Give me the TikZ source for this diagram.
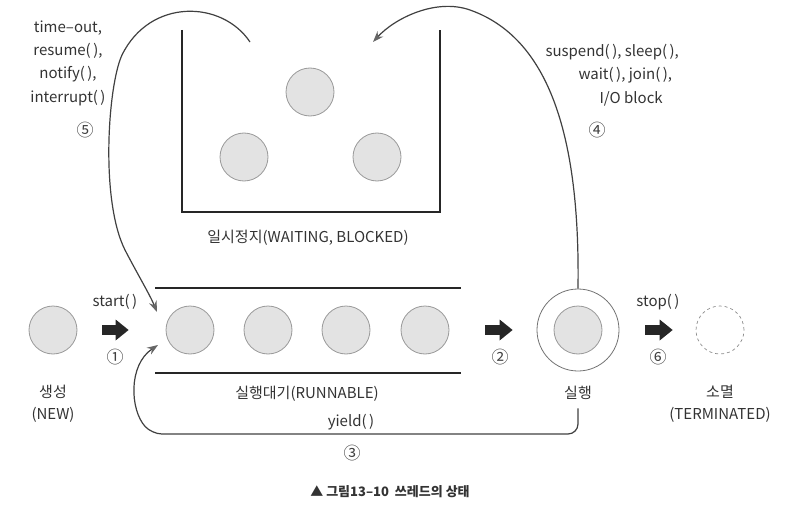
\documentclass[tikz,border=0pt]{standalone}
\usepackage{fontspec}
\setmainfont{Noto Sans CJK KR}
\usetikzlibrary{arrows.meta}
\tikzset{
	thread/.style={ % a thread as a grey disc
			circle,
			minimum size=48pt,
			inner sep=0pt,
			draw=black!40,
			fill=black!11,
			line width=0.8pt
		},
	ring/.style={ % ring round the running thread
			circle,
			minimum size=82pt,
			inner sep=0pt,
			draw=black!55,
			line width=0.8pt
		},
	gone/.style={ % terminated, only dashed
			circle,
			minimum size=48pt,
			inner sep=0pt,
			draw=black!45,
			dashed,
			line width=0.7pt
		},
	wall/.style={line width=1.6pt, draw=black!85},
	txt/.style={
			font=\fontsize{15}{22}\selectfont,
			text=black!80,
			align=center
		},
	num/.style={ % circled step numbers
			font=\fontsize{17}{20}\selectfont,
			text=black!75
		},
	bigarrow/.style={ % thick block arrows
			draw=black!85,
			line width=10pt,
			-{Triangle[length=13pt,width=21pt,line width=0pt]}
		},
	move/.style={ % thin bent transitions
			draw=black!75,
			line width=1.2pt,
			-{Stealth[length=11pt,width=8pt,color=black!60]}
		}
}
\begin{document}
\begin{tikzpicture}[x=1pt, y=-1pt]
	\useasboundingbox (0,0) rectangle (796,511);

	\draw[wall] (182,30) |- (440,212) -- (440,30);
	\node[thread] (w1) at (310,92) {};
	\node[thread] (w2) at (244,157) {};
	\node[thread] (w3) at (377,157) {};
	\node[txt] (waitlbl) at (308,238) {일시정지(WAITING, BLOCKED)};

	\draw[wall] (155,288) -- (461,288);
	\draw[wall] (155,373) -- (461,373);
	\foreach \i/\x in {1/190,2/268,3/346,4/425}
		\node[thread] (r\i) at (\x,330) {};
	\node[txt] (readylbl) at (307,394) {실행대기(RUNNABLE)};

	\node[thread] (new) at (53,330) {};
	\node[txt] (newlbl) at (53,404) {생성\\(NEW)};
	\node[ring] (run) at (578,330) {};
	\node[thread] (runin) at (578,330) {};
	\node[txt] (runlbl) at (578,393) {실행};
	\node[gone] (dead) at (720,330) {};
	\node[txt] (deadlbl) at (720,404) {소멸\\(TERMINATED)};

	\draw[bigarrow, shorten <=25pt, shorten >=37pt] (new) -- (r1);
	\draw[bigarrow, shorten <=36pt, shorten >=24pt] (r4) -- (run);
	\draw[bigarrow, shorten <=26pt, shorten >=23pt] (run) -- (dead);
	\node[txt] (startlbl) at (115,302) {start(\,)};
	\node[num] (n1) at (115,357) {①};
	\node[num] (n2) at (500,357) {②};
	\node[txt] (stoplbl) at (658,302) {stop(\,)};
	\node[num] (n6) at (658,357) {⑥};

	\coordinate (out5) at (250,42);
	\coordinate (in5) at (157,312);
	\coordinate (in4) at (373,42);
	\coordinate (in3) at (158,345);
	\draw[move] (out5) .. controls (222,0) and (150,-2) .. (122,55)
		.. controls (108,85) and (100,200) .. (125,250)
		.. controls (138,275) and (150,295) .. (in5);
	\draw[move] (run.north) .. controls (580,150) and (555,40) .. (470,10)
		.. controls (436,-2) and (395,18) .. (in4);
	\draw[move, shorten <=5pt, rounded corners=10pt] (runlbl.south) |- (152,434)
		[sharp corners] .. controls (130,410) and (128,365) .. (in3);

	\node[txt, font=\fontsize{15}{23.3}\selectfont] (lbl5) at (68,63)
		{time–out,\\resume(\,),\\notify(\,),\\interrupt(\,)};
	\node[num] (n5) at (85,130) {⑤};
	\node[txt, font=\fontsize{15}{23.3}\selectfont, align=left, anchor=west] (lbl4) at (542,75)
		{suspend(\,), sleep(\,),\\\hspace*{33pt}wait(\,), join(\,),\\\hspace*{54pt}I/O block};
	\node[num] (n4) at (597,130) {④};
	\node[txt] (yieldlbl) at (351,422) {yield(\,)};
	\node[num] (n3) at (352,453) {③};

	\node[txt, font=\bfseries\fontsize{13}{16}\selectfont] (caption) at (390,492)
		{▲ 그림13–10\ \ 쓰레드의 상태};
\end{tikzpicture}
\end{document}
